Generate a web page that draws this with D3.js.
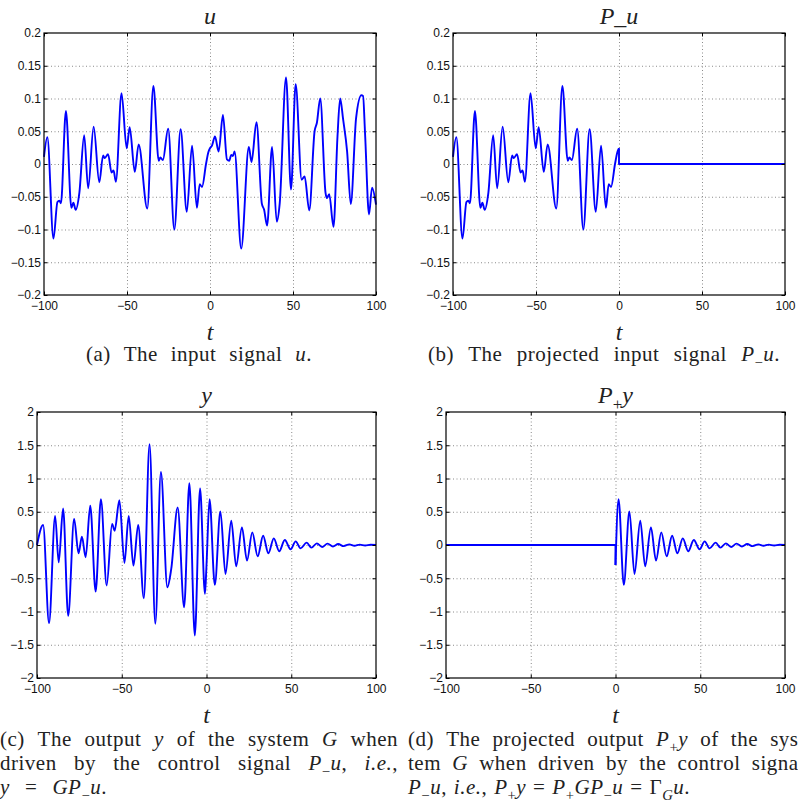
<!DOCTYPE html>
<meta charset="utf-8">
<script src="https://d3js.org/d3.v7.min.js"></script>
<style>
  body { margin: 0; background: #fff; }
  svg { display: block; }
</style>
<div id="chart"></div>
<script>
// input signal u(t)
const tU = [-100,-98,-94.3,-91.9,-90.8,-89.8,-86.8,-83.5,-82.3,-80.9,-78.7,-75.8,-73.4,-70.1,-66.7,-64.4,-63.4,-61.4,-59.3,-58.1,
  -56.7,-53.3,-50.2,-48.4,-45.3,-43,-37.8,-34.1,-30.9,-29.9,-28.4,-25.2,-21.5,-17.7,-14,-10.8,-7.9,-6.2,-4.8,-2.4,
  -1,0,1.2,3,5.2,7.8,10.2,11.6,12.8,13.8,14.8,18.8,23.4,25,28,31.2,32.6,34.4,37.4,40.2,
  42,45.8,48.8,51.6,55.2,57,59.8,63,64.4,66.4,69.6,70.4,71.8,74.4,76.8,78.4,80.2,82.6,84.8,88,
  91.2,92.2,93.4,95.8,97.6,100];
const vU = [0.011,0.041,-0.114,-0.058,-0.056,-0.06,0.081,-0.067,-0.059,-0.07,-0.044,0.044,-0.037,0.057,-0.028,0.013,0.009,0.015,-0.013,-0.01,
  -0.027,0.108,0.024,0.056,-0.012,0.03,-0.068,0.119,0.005,0.01,0.006,0.054,-0.1,0.053,-0.073,0.028,-0.067,-0.031,-0.035,0.0,
  0.018,0.024,0.028,0.042,0.019,0.075,0.007,0.005,0.014,0.012,0.019,-0.129,0.026,0.003,0.064,-0.06,-0.07,-0.094,0.026,-0.088,
  -0.06,0.132,-0.039,0.122,-0.024,-0.019,-0.071,0.05,0.063,0.1,-0.044,-0.052,-0.046,-0.096,0.042,0.1,0.068,0.019,-0.061,0.07,
  0.105,0.104,0.047,-0.077,-0.036,-0.062];

// output y(t)
const tY = [-100,-96.4,-92.9,-89.3,-87.2,-84.6,-81.6,-78.1,-75.5,-73.5,-71.3,-68.6,-65.4,-62.3,-58.9,-55.7,-54.2,-51.4,-48.4,-45.9,
  -43.1,-40.3,-37,-33.6,-30.2,-26.9,-23.1,-20.8,-17,-13.2,-10.1,-6.9,-3.8,-0.9,0,1.8,4.9,8.2,11.2,14.6,
  17.5,20.9,23.9,27,30.2,33.4,36.5,39.7,42.9,46.2,49.6,52.6,55.5,59.1,61.9,65.1,68.2,71.4,74.6,77.7,
  80.9,84.3,87.3,90.4,93.6,96.8,100];
const vY = [0,0.3,-1.175,0.435,-0.26,0.55,-1.065,0.39,-0.125,0.125,-0.185,0.59,-0.7,0.69,-0.61,0.315,0.215,0.675,-0.27,0.435,
  -0.31,0.3,-0.8,1.515,-1.185,1.1,-0.635,-0.36,0.565,-0.935,0.93,-1.36,0.85,-0.735,-0.3,0.69,-0.6,0.505,-0.435,0.365,
  -0.32,0.265,-0.235,0.19,-0.17,0.14,-0.125,0.1,-0.095,0.075,-0.065,0.055,-0.05,0.035,-0.04,0.025,-0.03,0.02,-0.022,0.015,
  -0.017,0.01,-0.012,0.006,-0.008,0.003,0];

const tTicks = [-100, -50, 0, 50, 100];
const uTicks = [-0.2, -0.15, -0.1, -0.05, 0, 0.05, 0.1, 0.15, 0.2];
const yTicks = [-2, -1.5, -1, -0.5, 0, 0.5, 1, 1.5, 2];

const uData = tU.map((t, i) => ({ t: t, v: vU[i] }));
const yData = tY.map((t, i) => ({ t: t, v: vY[i] }));

// projections: P_ keeps t <= 0, P+ keeps t >= 0
const pMinusU = uData.filter(d => d.t <= 0);
const pPlusY = yData.filter(d => d.t >= 0);
const tMin = tTicks[0], tMax = tTicks[tTicks.length - 1];

const svg = d3.select("#chart").append("svg")
  .attr("width", 798)
  .attr("height", 805);

const fmt = v => (v < 0 ? "\u2212" + Math.abs(v) : String(v));

// text with {i} italic, {r} roman, {s} subscript, {si} italic subscript
function richText(text, markup, size) {
  const parts = markup.split(/\{(\w+)\}/);
  let style = "r", shift = 0;
  for (let i = 0; i < parts.length; i++) {
    if (i % 2 === 1) { style = parts[i]; continue; }
    if (!parts[i]) continue;
    const sub = style === "s" || style === "si";
    const target = sub ? size * 0.28 : 0;
    text.append("tspan")
      .attr("dy", target - shift)
      .attr("font-size", sub ? size * 0.7 : size)
      .attr("font-style", (style === "i" || style === "si") ? "italic" : "normal")
      .text(parts[i]);
    shift = target;
  }
  return text;
}

function drawPanel(box, yDomain, yTickVals, title, series) {
  const g = svg.append("g");
  const x = d3.scaleLinear().domain([tMin, tMax]).range([box.left, box.right]);
  const y = d3.scaleLinear().domain(yDomain).range([box.bottom, box.top]);
  const w = box.right - box.left, h = box.bottom - box.top;

  // dotted grid
  const gridX = g.append("g").attr("transform", `translate(0,${box.bottom})`)
    .call(d3.axisBottom(x).tickValues(tTicks.slice(1, -1)).tickSize(-h).tickFormat(""));
  const gridY = g.append("g").attr("transform", `translate(${box.left},0)`)
    .call(d3.axisLeft(y).tickValues(yTickVals.slice(1, -1)).tickSize(-w).tickFormat(""));
  [gridX, gridY].forEach(a => {
    a.select(".domain").remove();
    a.selectAll("line").attr("stroke", "#8a8a8a").attr("stroke-width", 1).attr("stroke-dasharray", "1,2.5");
  });

  // signal
  series.forEach(s => {
    const line = d3.line().x(d => x(d.t)).y(d => y(d.v)).curve(s.curve);
    g.append("path")
      .datum(s.points)
      .attr("fill", "none")
      .attr("stroke", "#0000ff")
      .attr("stroke-width", 1.9)
      .attr("stroke-linejoin", "round")
      .attr("d", line);
  });

  // axes with inward ticks on all sides
  const xAxis = g.append("g").attr("transform", `translate(0,${box.bottom})`)
    .call(d3.axisBottom(x).tickValues(tTicks).tickSize(-3.5).tickPadding(6).tickFormat(fmt));
  const yAxis = g.append("g").attr("transform", `translate(${box.left},0)`)
    .call(d3.axisLeft(y).tickValues(yTickVals).tickSize(-3.5).tickPadding(3).tickFormat(fmt));
  const xTop = g.append("g").attr("transform", `translate(0,${box.top})`)
    .call(d3.axisTop(x).tickValues(tTicks).tickSize(-3.5).tickFormat(""));
  const yRight = g.append("g").attr("transform", `translate(${box.right},0)`)
    .call(d3.axisRight(y).tickValues(yTickVals).tickSize(-3.5).tickFormat(""));
  [xAxis, yAxis, xTop, yRight].forEach(a => {
    a.select(".domain").remove();
    a.selectAll("line").attr("stroke", "#000");
    a.attr("font-family", "'Liberation Sans', Arial, sans-serif").attr("font-size", 12);
    a.selectAll("text").attr("fill", "#111");
  });

  g.append("rect")
    .attr("x", box.left).attr("y", box.top)
    .attr("width", w).attr("height", h)
    .attr("fill", "none").attr("stroke", "#000").attr("stroke-width", 1.2);

  // title and t label
  richText(g.append("text")
    .attr("x", (box.left + box.right) / 2).attr("y", box.top - 9)
    .attr("text-anchor", "middle")
    .attr("font-family", "'Liberation Serif', serif")
    .attr("fill", "#222"), title, 24);

  g.append("text")
    .attr("x", (box.left + box.right) / 2).attr("y", box.bottom + 45)
    .attr("text-anchor", "middle")
    .attr("font-family", "'Liberation Serif', serif")
    .attr("font-style", "italic")
    .attr("font-size", 24)
    .attr("fill", "#222")
    .text("t");
}

const smooth = d3.curveMonotoneX;

drawPanel({ left: 44, right: 376, top: 33, bottom: 295 }, [-0.2, 0.2], uTicks, "{i}u",
  [{ points: uData, curve: smooth }]);

drawPanel({ left: 453, right: 785, top: 33, bottom: 295 }, [-0.2, 0.2], uTicks, "{i}P_u",
  [{ points: pMinusU, curve: smooth },
   { points: [pMinusU[pMinusU.length - 1], { t: 0, v: 0 }, { t: tMax, v: 0 }], curve: d3.curveLinear }]);

drawPanel({ left: 37, right: 376, top: 412, bottom: 678 }, [-2, 2], yTicks, "{i}y",
  [{ points: yData, curve: smooth }]);

drawPanel({ left: 446, right: 785, top: 412, bottom: 678 }, [-2, 2], yTicks, "{i}P{s}+{i}y",
  [{ points: [{ t: tMin, v: 0 }, { t: 0, v: 0 }, pPlusY[0]], curve: d3.curveLinear },
   { points: pPlusY, curve: smooth }]);

// captions: each line is spread between x0 and x1
const captionLines = [
  { x0: 86, x1: 312, y: 361, words: ["(a)", "The", "input", "signal", "{i}u{r}."] },
  { x0: 428, x1: 780, y: 361, words: ["(b)", "The", "projected", "input", "signal", "{i}P{s}\u2212{i}u{r}."] },
  { x0: 0, x1: 398, y: 746, words: ["(c)", "The", "output", "{i}y", "of", "the", "system", "{i}G", "when"] },
  { x0: 0, x1: 398, y: 770, words: ["driven", "by", "the", "control", "signal", "{i}P{s}\u2212{i}u{r},", "{i}i.e.{r},"] },
  { x0: 0, x1: 107, y: 794, words: ["{i}y", "=", "{i}GP{s}\u2212{i}u{r}."] },
  { x0: 408, x1: 806, y: 746, words: ["(d)", "The", "projected", "output", "{i}P{s}+{i}y", "of", "the", "sys-"] },
  { x0: 408, x1: 805, y: 770, words: ["tem", "{i}G", "when", "driven", "by", "the", "control", "signal"] },
  { x0: 408, x1: 690, y: 794, words: ["{i}P{s}\u2212{i}u{r},", "{i}i.e.{r},", "{i}P{s}+{i}y", "=",
    "{i}P{s}+{i}GP{s}\u2212{i}u", "=", "\u0393{si}G{i}u{r}."] }
];

const capG = svg.append("g")
  .attr("font-family", "'Liberation Serif', serif")
  .attr("letter-spacing", "0.5px")
  .attr("fill", "#222");

captionLines.forEach(line => {
  const texts = line.words.map(wd => richText(capG.append("text").attr("y", line.y), wd, 21));
  const widths = texts.map(t => t.node().getComputedTextLength());
  const total = d3.sum(widths);
  const gap = texts.length > 1 ? (line.x1 - line.x0 - total) / (texts.length - 1) : 0;
  let cx = line.x0;
  texts.forEach((t, i) => {
    t.attr("x", cx);
    cx += widths[i] + gap;
  });
});
</script>
